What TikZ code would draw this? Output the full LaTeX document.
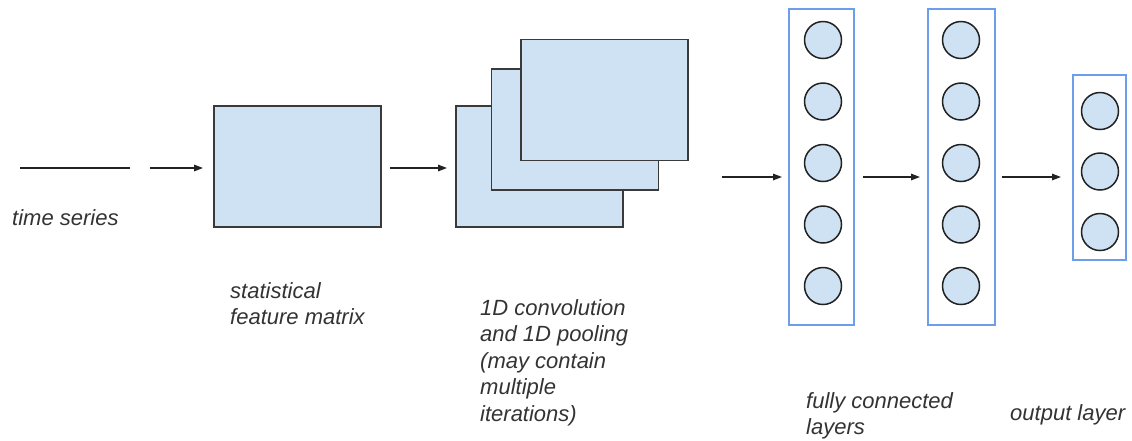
\documentclass[tikz,border=0pt]{standalone}
\usepackage{fontspec}
\setmainfont{Liberation Sans}
\usepackage{tikz}
\usetikzlibrary{arrows.meta,positioning}
\definecolor{PaleBlue}{HTML}{CFE2F3}
\definecolor{Slate}{HTML}{3A3A3A}
\definecolor{Cornflower}{HTML}{6D9EEB}
\definecolor{Ink}{HTML}{222222}
\definecolor{Caption}{HTML}{333333}
\tikzset{
  matbox/.style={draw=Slate, fill=PaleBlue, line width=1.6pt, minimum width=167pt, minimum height=121pt, inner sep=0pt, outer sep=0pt},
  layerbox/.style={draw=Cornflower, line width=1.6pt, minimum height=316pt, inner sep=0pt, outer sep=0pt},
  unit/.style={circle, draw=Ink, fill=PaleBlue, line width=1.5pt, minimum size=37pt, inner sep=0pt},
  arrow/.style={-{Triangle[length=9pt,width=6.5pt]}, line width=1.4pt, draw=Ink},
  caption/.style={anchor=north west, inner sep=0pt, align=left, text=Caption, font=\fontsize{22}{26.5}\selectfont\itshape}
}
\begin{document}
\begin{tikzpicture}[x=1pt, y=-1pt]
\useasboundingbox (0,0) rectangle (1132,440);
% input series
\coordinate (ts-a) at (20,168);
\coordinate (ts-b) at (130,168);
\coordinate (ts-c) at (150,168);
\draw[line width=1.4pt, draw=Ink] (ts-a) -- (ts-b);
\node[caption] (ts-label) at (12,209) {time series};
% statistical feature matrix
\node[matbox] (feat) at (297.5,166.5) {};
\node[caption] (feat-label) at (230,282) {statistical\\feature matrix};
% convolution stack
\node[matbox] (conv1) at (539.5,166.5) {};
\node[matbox] (conv2) at (575,129.5) {};
\node[matbox] (conv3) at (604.5,100) {};
\node[caption] (conv-label) at (480,299) {1D convolution\\and 1D pooling\\(may contain\\multiple\\iterations)};
% fully connected layers
\node[layerbox, minimum width=65pt] (fc1) at (821.5,167) {};
\node[unit] (fc1-a) at (823,40) {};
\node[unit, below=23pt of fc1-a] (fc1-b) {};
\node[unit, below=23pt of fc1-b] (fc1-c) {};
\node[unit, below=23pt of fc1-c] (fc1-d) {};
\node[unit, below=23pt of fc1-d] (fc1-e) {};
\node[layerbox, minimum width=67pt] (fc2) at (961.5,167) {};
\node[unit] (fc2-a) at (961,40) {};
\node[unit, below=23pt of fc2-a] (fc2-b) {};
\node[unit, below=23pt of fc2-b] (fc2-c) {};
\node[unit, below=23pt of fc2-c] (fc2-d) {};
\node[unit, below=23pt of fc2-d] (fc2-e) {};
\node[caption] (fc-label) at (806,392) {fully connected\\layers};
% output layer
\node[layerbox, minimum width=53pt, minimum height=185pt] (out) at (1099.5,167.5) {};
\node[unit] (out-a) at (1100,111) {};
\node[unit, below=22pt of out-a] (out-b) {};
\node[unit, below=22pt of out-b] (out-c) {};
\node[caption] (out-label) at (1010,404) {output layer};
% flow
\coordinate (mid) at (0,177);
\draw[arrow, shorten >=11pt] (ts-c) -- (feat.west |- ts-c);
\draw[arrow, shorten <=9pt, shorten >=9pt] (feat.east |- ts-c) -- (conv1.west |- ts-c);
\draw[arrow, shorten <=34pt, shorten >=7pt] (conv3.east |- mid) -- (fc1.west |- mid);
\draw[arrow, shorten <=9pt, shorten >=8pt] (fc1.east |- mid) -- (fc2.west |- mid);
\draw[arrow, shorten <=7pt, shorten >=12pt] (fc2.east |- mid) -- (out.west |- mid);
\end{tikzpicture}
\end{document}
